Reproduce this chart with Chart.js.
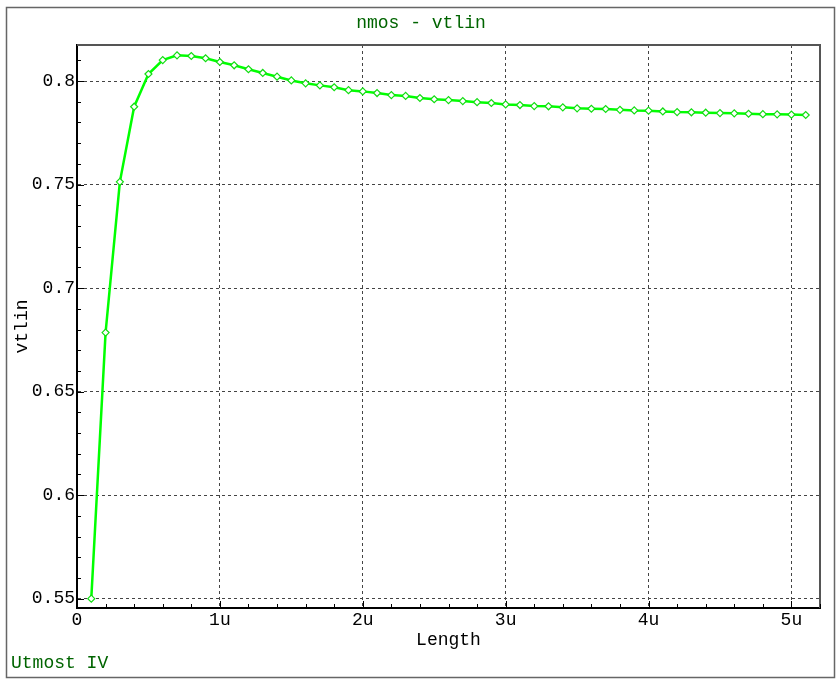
<!DOCTYPE html>
<html>
<head>
<meta charset="utf-8">
<script src="https://cdn.jsdelivr.net/npm/chart.js@4/dist/chart.umd.min.js"></script>
<style>
html,body{margin:0;padding:0;background:#fff;}
canvas{display:block;}
</style>
</head>
<body>
<canvas id="c" width="839" height="682"></canvas>
<script>
// ---- data (Length in microns, vtlin in V) ----
const lengthUm = [0.1,0.2,0.3,0.4,0.5,0.6,0.7,0.8,0.9,1.0,
  1.1,1.2,1.3,1.4,1.5,1.6,1.7,1.8,1.9,2.0,
  2.1,2.2,2.3,2.4,2.5,2.6,2.7,2.8,2.9,3.0,
  3.1,3.2,3.3,3.4,3.5,3.6,3.7,3.8,3.9,4.0,
  4.1,4.2,4.3,4.4,4.5,4.6,4.7,4.8,4.9,5.0,5.1];
const vtlin = [0.5500,0.6785,0.7513,0.7876,0.8034,0.8101,0.8124,0.8121,0.8110,0.8092,
  0.8076,0.8057,0.8039,0.8021,0.8003,0.7989,0.7979,0.7970,0.7956,0.7950,
  0.7942,0.7932,0.7928,0.7918,0.7912,0.7908,0.7903,0.7898,0.7894,0.7887,
  0.7884,0.7879,0.7878,0.7873,0.7868,0.7866,0.7865,0.7861,0.7858,0.7857,
  0.7853,0.7850,0.7849,0.7847,0.7845,0.7844,0.7842,0.7840,0.7839,0.7838,0.7836];
const xTickLabels = ['0','1u','2u','3u','4u','5u'];
const xTickValues = [0,1,2,3,4,5];
const yTickLabels = ['0.55','0.6','0.65','0.7','0.75','0.8'];
const yTickValues = [0.55,0.6,0.65,0.7,0.75,0.8];
const chartTitle = 'nmos - vtlin';
const footerText = 'Utmost IV';
const xTitle = 'Length';
const yTitle = 'vtlin';

const FONT = "'Liberation Mono', 'DejaVu Sans Mono', monospace";
const FS = 18;
const GREEN_TEXT = '#006400';

function findIdx(vals, v){
  for (let i=0;i<vals.length;i++){ if (Math.abs(vals[i]-v) < 1e-6) return i; }
  return -1;
}
const isMajX = v => findIdx(xTickValues, v) >= 0;
const isMajY = v => findIdx(yTickValues, v) >= 0;

const decor = {
  id: 'decor',
  beforeDraw(chart){
    const {ctx} = chart;
    ctx.save();
    ctx.fillStyle = '#fff';
    ctx.fillRect(0,0,chart.width,chart.height);
    ctx.restore();
  },
  beforeDatasetsDraw(chart){
    const {ctx, chartArea:a, scales:{x, y}} = chart;
    ctx.save();
    // top & right plot frame
    ctx.strokeStyle = '#555';
    ctx.lineWidth = 2;
    ctx.beginPath();
    ctx.moveTo(a.left, a.top);
    ctx.lineTo(a.right, a.top);
    ctx.lineTo(a.right, a.bottom);
    ctx.stroke();
    // inward tick marks
    ctx.strokeStyle = '#000';
    ctx.lineWidth = 1;
    ctx.beginPath();
    y.ticks.forEach(t => {
      const py = Math.round(y.getPixelForValue(t.value)) + 0.5;
      const len = isMajY(t.value) ? 7 : 4;
      ctx.moveTo(a.left, py); ctx.lineTo(a.left + len, py);
    });
    x.ticks.forEach(t => {
      const px = Math.round(x.getPixelForValue(t.value)) + 0.5;
      const len = isMajX(t.value) ? 7 : 4;
      ctx.moveTo(px, a.bottom); ctx.lineTo(px, a.bottom - len);
    });
    ctx.stroke();
    ctx.restore();
  },
  afterDraw(chart){
    const {ctx} = chart;
    ctx.save();
    // outer frame
    ctx.strokeStyle = '#666';
    ctx.lineWidth = 1.5;
    ctx.strokeRect(6.5, 7.5, 828, 670);
    // title & footer
    ctx.fillStyle = GREEN_TEXT;
    ctx.font = FS + 'px ' + FONT;
    ctx.textBaseline = 'alphabetic';
    ctx.textAlign = 'center';
    ctx.fillText(chartTitle, 421, 28);
    ctx.textAlign = 'left';
    ctx.fillText(footerText, 11, 668);
    ctx.restore();
  }
};

Chart.defaults.font.family = FONT;
Chart.defaults.font.size = FS;
Chart.defaults.color = '#000';

new Chart(document.getElementById('c'), {
  type: 'line',
  data: {
    datasets: [{
      data: lengthUm.map((l, i) => ({x: l, y: vtlin[i]})),
      borderColor: '#00ff00',
      borderWidth: 2.5,
      tension: 0,
      pointStyle: 'rectRot',
      pointRadius: 3.5,
      pointBorderWidth: 1.2,
      pointBorderColor: '#11dd11',
      pointBackgroundColor: '#ffffff'
    }]
  },
  options: {
    responsive: false,
    animation: false,
    layout: { padding: { top: 45, left: 7, right: 19, bottom: 0 } },
    plugins: { legend: { display: false }, tooltip: { enabled: false }, title: { display: false } },
    scales: {
      x: {
        type: 'linear',
        min: 0, max: 5.2,
        afterFit(s){ s.height = 74; },
        ticks: {
          stepSize: 0.2, autoSkip: false, maxRotation: 0, includeBounds: false, padding: 1,
          callback: v => { const i = findIdx(xTickValues, v); return i >= 0 ? xTickLabels[i] : ''; }
        },
        grid: {
          drawTicks: false,
          lineWidth: 1,
          color: c => (c.tick && isMajX(c.tick.value)) ? '#444' : 'rgba(0,0,0,0)'
        },
        border: { display: true, color: '#000', width: 2, dash: [3,3] },
        title: { display: true, text: xTitle, padding: { top: 0, bottom: 31 } }
      },
      y: {
        type: 'linear',
        min: 0.5455, max: 0.8174,
        afterFit(s){ s.width = 70; },
        ticks: {
          stepSize: 0.01, autoSkip: false, includeBounds: false, padding: 2,
          callback: v => { const i = findIdx(yTickValues, v); return i >= 0 ? yTickLabels[i] : ''; }
        },
        grid: {
          drawTicks: false,
          lineWidth: 1,
          color: c => (c.tick && isMajY(c.tick.value)) ? '#444' : 'rgba(0,0,0,0)'
        },
        border: { display: true, color: '#000', width: 2, dash: [3,3] },
        title: { display: true, text: yTitle, padding: { top: 4, bottom: 0 } }
      }
    }
  },
  plugins: [decor]
});
</script>
</body>
</html>
